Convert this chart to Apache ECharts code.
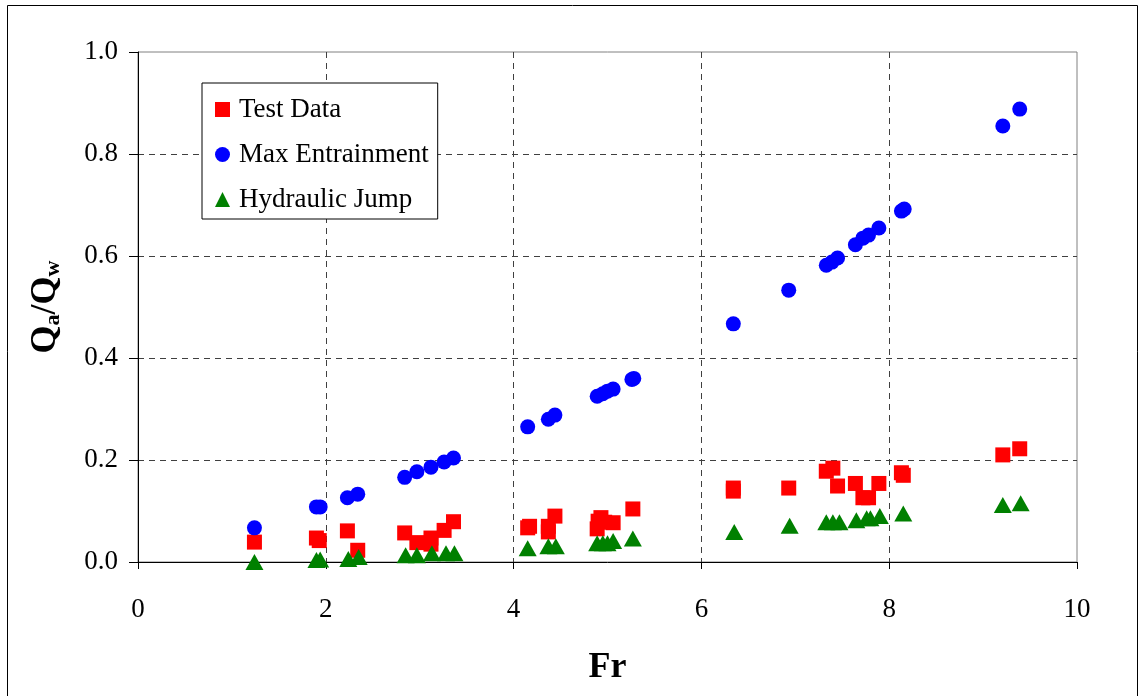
<!DOCTYPE html>
<html>
<head>
    <meta charset="utf-8">
    <title>Qa/Qw vs Fr</title>
    <script src="https://cdn.jsdelivr.net/npm/echarts@6/dist/echarts.min.js"></script>
    <style>
        html, body { margin: 0; padding: 0; background: #fff; }
        #main { width: 1139px; height: 696px; }
    </style>
</head>
<body>
<div id="main"></div>
<script type="text/javascript">
    // Test Data (red squares)
    var testFr = [1.24, 1.90, 1.93, 2.23, 2.34, 2.84, 2.97, 3.12, 3.12, 3.26, 3.36,
                  4.15, 4.17, 4.37, 4.37, 4.44, 4.89, 4.90, 4.93, 4.97, 5.06, 5.27,
                  6.34, 6.34, 6.93, 7.33, 7.40, 7.45, 7.64, 7.72, 7.78, 7.89, 8.13, 8.15,
                  9.21, 9.39];
    var testQ  = [0.039, 0.047, 0.042, 0.061, 0.023, 0.057, 0.038, 0.047, 0.035, 0.062, 0.079,
                  0.067, 0.070, 0.070, 0.059, 0.090, 0.065, 0.080, 0.087, 0.078, 0.077, 0.104,
                  0.139, 0.145, 0.145, 0.178, 0.184, 0.149, 0.154, 0.126, 0.126, 0.154, 0.175, 0.170,
                  0.210, 0.222];
    // Max Entrainment (blue circles)
    var maxFr = [1.24, 1.90, 1.94, 2.23, 2.34, 2.84, 2.97, 3.12, 3.26, 3.36,
                 4.15, 4.37, 4.44, 4.89, 4.95, 5.00, 5.06, 5.26, 5.28,
                 6.34, 6.93, 7.33, 7.39, 7.45, 7.64, 7.72, 7.78, 7.89, 8.13, 8.16,
                 9.21, 9.39];
    var maxQ  = [0.067, 0.108, 0.108, 0.126, 0.133, 0.166, 0.177, 0.186, 0.196, 0.204,
                 0.265, 0.280, 0.288, 0.325, 0.330, 0.335, 0.339, 0.358, 0.360,
                 0.467, 0.533, 0.582, 0.588, 0.596, 0.622, 0.635, 0.641, 0.655, 0.688, 0.692,
                 0.855, 0.888];
    // Hydraulic Jump (green triangles)
    var jumpFr = [1.24, 1.90, 1.94, 2.24, 2.35, 2.85, 2.97, 3.13, 3.28, 3.37,
                  4.15, 4.37, 4.45, 4.89, 4.95, 5.00, 5.06, 5.27,
                  6.35, 6.94, 7.33, 7.40, 7.47, 7.65, 7.76, 7.80, 7.90, 8.15,
                  9.21, 9.40];
    var jumpQ  = [0.000, 0.004, 0.005, 0.006, 0.010, 0.013, 0.013, 0.017, 0.017, 0.017,
                  0.027, 0.031, 0.031, 0.037, 0.037, 0.037, 0.041, 0.046,
                  0.059, 0.071, 0.078, 0.078, 0.078, 0.082, 0.086, 0.086, 0.090, 0.095,
                  0.112, 0.115];

    function pairs(xs, ys) {
        var out = [];
        for (var i = 0; i < xs.length; i++) {
            out.push([xs[i], ys[i]]);
        }
        return out;
    }

    var serif = 'Liberation Serif';
    var myChart = echarts.init(document.getElementById('main'));

    var option = {
        animation: false,
        backgroundColor: '#fff',
        textStyle: { fontFamily: serif, color: '#000' },
        // outer frame of the chart
        graphic: [{
            type: 'rect',
            shape: { x: 7.5, y: 5.5, width: 1130, height: 700 },
            style: { fill: 'none', stroke: '#000', lineWidth: 1 },
            silent: true
        }],
        grid: {
            left: 138, top: 52, right: 62, bottom: 134,
            show: true,
            borderColor: '#808080',
            borderWidth: 1
        },
        legend: {
            orient: 'vertical',
            left: 202,
            top: 83,
            padding: [13, 9, 6, 13],
            itemGap: 18,
            itemWidth: 15,
            itemHeight: 15,
            backgroundColor: '#fff',
            borderColor: '#000',
            borderWidth: 1,
            borderRadius: 0,
            textStyle: { fontFamily: serif, fontSize: 27, color: '#000', lineHeight: 27, padding: [0, 0, 0, 4] },
            data: [
                { name: 'Test Data', icon: 'rect' },
                { name: 'Max Entrainment', icon: 'circle' },
                { name: 'Hydraulic Jump', icon: 'triangle' }
            ]
        },
        xAxis: {
            type: 'value',
            min: 0, max: 10, interval: 2,
            name: 'Fr',
            nameLocation: 'middle',
            nameGap: 88,
            nameTextStyle: { fontFamily: serif, fontSize: 36, fontWeight: 'bold', color: '#000' },
            axisLine: { show: true, onZero: false, lineStyle: { color: '#000', width: 1 } },
            axisTick: { show: true, inside: false, length: 7, lineStyle: { color: '#000' } },
            axisLabel: { margin: 34, fontFamily: serif, fontSize: 27, color: '#000' },
            splitLine: {
                show: true, showMinLine: false, showMaxLine: false,
                lineStyle: { color: '#404040', type: [6, 5], width: 1 }
            }
        },
        yAxis: {
            type: 'value',
            min: 0, max: 1, interval: 0.2,
            name: 'Q{sub|a}/Q{sub|w}',
            nameLocation: 'middle',
            nameRotate: 90,
            nameGap: 74,
            nameTextStyle: {
                fontFamily: serif, fontSize: 36, fontWeight: 'bold', color: '#000', lineHeight: 36,
                rich: {
                    sub: { fontFamily: serif, fontSize: 22, fontWeight: 'bold', color: '#000',
                           lineHeight: 16, verticalAlign: 'bottom' }
                }
            },
            axisLine: { show: true, onZero: false, lineStyle: { color: '#000', width: 1 } },
            axisTick: { show: true, inside: false, length: 9, lineStyle: { color: '#000' } },
            axisLabel: {
                margin: 20, fontFamily: serif, fontSize: 27, color: '#000',
                formatter: function (v) { return v.toFixed(1); }
            },
            splitLine: {
                show: true, showMinLine: false, showMaxLine: false,
                lineStyle: { color: '#404040', type: [6, 5], width: 1 }
            }
        },
        series: [{
            name: 'Test Data',
            type: 'scatter',
            symbol: 'rect',
            symbolSize: 15,
            itemStyle: { color: '#ff0000', opacity: 1 },
            data: pairs(testFr, testQ)
        }, {
            name: 'Max Entrainment',
            type: 'scatter',
            symbol: 'circle',
            symbolSize: 15,
            itemStyle: { color: '#0000ff', opacity: 1 },
            data: pairs(maxFr, maxQ)
        }, {
            name: 'Hydraulic Jump',
            type: 'scatter',
            symbol: 'triangle',
            symbolSize: [18, 16],
            itemStyle: { color: '#008000', opacity: 1 },
            data: pairs(jumpFr, jumpQ)
        }]
    };
    myChart.setOption(option);
</script>
</body>
</html>
